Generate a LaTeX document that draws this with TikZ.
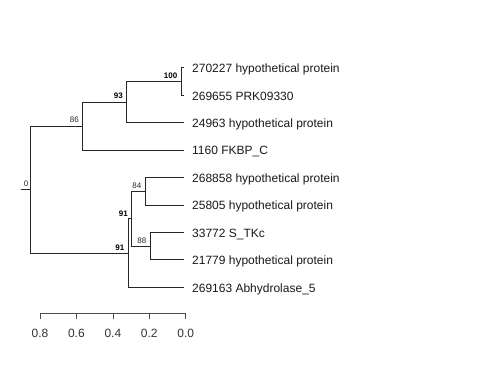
\documentclass[tikz,border=0pt]{standalone}
\usepackage{fontspec}
\setmainfont{Liberation Sans}
\begin{document}
\begin{tikzpicture}[x=1pt,y=-1pt,
  edge/.style={draw=black!85,line width=0.8pt},
  leaflab/.style={anchor=base west,inner sep=0pt,font=\fontsize{12}{14}\selectfont,text=black!90},
  supb/.style={anchor=base east,inner sep=0pt,font=\fontsize{8}{9}\selectfont\bfseries,text=black},
  supn/.style={anchor=base east,inner sep=0pt,font=\fontsize{8}{9}\selectfont,text=black!85},
  axline/.style={draw=black!70,line width=0.8pt},
  axlab/.style={anchor=center,inner sep=0pt,font=\fontsize{12}{14}\selectfont,text=black!80}]
\useasboundingbox (0,0) rectangle (480,384);
% leaf tips
\coordinate (t1) at (184,67.6);
\coordinate (t2) at (184,95.1);
\coordinate (t3) at (184,122.6);
\coordinate (t4) at (184,150.0);
\coordinate (t5) at (184,177.5);
\coordinate (t6) at (184,204.9);
\coordinate (t7) at (184,232.4);
\coordinate (t8) at (184,259.8);
\coordinate (t9) at (184,287.3);
% labels
\node[leaflab] (l1) at (192,72.5) {270227 hypothetical protein};
\node[leaflab] (l2) at (192,100.0) {269655 PRK09330};
\node[leaflab] (l3) at (192,127.5) {24963 hypothetical protein};
\node[leaflab] (l4) at (192,154.9) {1160 FKBP\_C};
\node[leaflab] (l5) at (192,182.4) {268858 hypothetical protein};
\node[leaflab] (l6) at (192,209.8) {25805 hypothetical protein};
\node[leaflab] (l7) at (192,237.3) {33772 S\_TKc};
\node[leaflab] (l8) at (192,264.7) {21779 hypothetical protein};
\node[leaflab] (l9) at (192,292.2) {269163 Abhydrolase\_5};
% internal nodes
\coordinate (n100) at (181,81.35);
\coordinate (n93) at (126.5,102.0);
\coordinate (n86) at (82.3,126.0);
\coordinate (n84) at (145,191.2);
\coordinate (n88) at (150,246.1);
\coordinate (n91a) at (131.7,218.65);
\coordinate (n91b) at (128.3,253.0);
\coordinate (root) at (30.7,189.5);
\coordinate (r0) at (20.7,189.5);
% edges
\draw[edge] (r0) -- (root);
\draw[edge] (root) |- (n86);
\draw[edge] (root) |- (n91b);
\draw[edge] (n86) |- (n93);
\draw[edge] (n86) |- (t4);
\draw[edge] (n93) |- (n100);
\draw[edge] (n93) |- (t3);
\draw[edge] (n100) |- (t1);
\draw[edge] (n100) |- (t2);
\draw[edge] (n91b) |- (n91a);
\draw[edge] (n91b) |- (t9);
\draw[edge] (n91a) |- (n84);
\draw[edge] (n91a) |- (n88);
\draw[edge] (n84) |- (t5);
\draw[edge] (n84) |- (t6);
\draw[edge] (n88) |- (t7);
\draw[edge] (n88) |- (t8);
% support labels
\node[supn] (s0) at (28.5,186.8) {0};
\node[supn] (s86) at (79,122.8) {86};
\node[supb] (s93) at (123,98.8) {93};
\node[supb] (s100) at (177.5,78.3) {100};
\node[supb] (s91b) at (124.5,250) {91};
\node[supb] (s91a) at (128,216.3) {91};
\node[supn] (s84) at (141.5,188.5) {84};
\node[supn] (s88) at (146.5,243.6) {88};
% axis
\coordinate (a8) at (40,313);
\coordinate (a6) at (76.4,313);
\coordinate (a4) at (112.9,313);
\coordinate (a2) at (149.3,313);
\coordinate (a0) at (185.7,313);
\draw[axline] (a8) -- (a0);
\foreach \c in {a8,a6,a4,a2,a0} \draw[axline] (\c) -- ++(0,6);
\node[axlab] (x8) at (40,333.3) {0.8};
\node[axlab] (x6) at (76.4,333.3) {0.6};
\node[axlab] (x4) at (112.9,333.3) {0.4};
\node[axlab] (x2) at (149.3,333.3) {0.2};
\node[axlab] (x0) at (185.7,333.3) {0.0};
\end{tikzpicture}
\end{document}
